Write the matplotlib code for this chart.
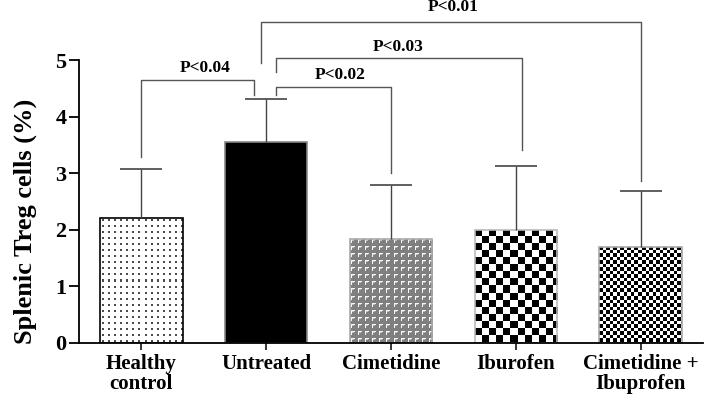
import numpy as np
import matplotlib.pyplot as plt

groups = ['Healthy\ncontrol', 'Untreated', 'Cimetidine', 'Iburofen', 'Cimetidine +\nIbuprofen']
means = [2.21, 3.56, 1.84, 2.00, 1.70]
sd = [0.86, 0.75, 0.96, 1.13, 0.99]
p_labels = ['P<0.04', 'P<0.02', 'P<0.03', 'P<0.01']
pairs = [(0, 1), (1, 2), (1, 3), (1, 4)]

# bracket layout: (x left, x right, top, left leg end, right leg end, label x, label y)
brackets = [
    (0.00, 0.90, 4.64, 3.29, 4.38, 0.51, 4.86),
    (1.08, 2.00, 4.53, 4.38, 3.01, 1.59, 4.73),
    (1.08, 3.05, 5.03, 4.78, 3.41, 2.06, 5.23),
    (0.96, 4.00, 5.68, 4.95, 2.86, 2.50, 5.94),
]

plt.rcParams['font.family'] = ['Liberation Serif', 'DejaVu Serif']
plt.rcParams['font.weight'] = 'bold'

fig = plt.figure(figsize=(7.07, 3.98), dpi=100)
ax = fig.add_axes([79 / 707, 55 / 398, 624 / 707, 283 / 398])
ax.set_xlim(-0.5, 4.5)
ax.set_ylim(0, 5)

width = 0.66
x = np.arange(len(groups))


def texture(kind, h, w):
    yy, xx = np.indices((h, w))
    img = np.ones((h, w, 3))
    if kind == 'dots':
        m = (yy % 6 >= 2) & (yy % 6 <= 3) & (xx % 6 >= 2) & (xx % 6 <= 3)
        img[m] = 0.3
    elif kind == 'weave':
        img[:] = 0.5
        ty, tx = yy % 7, xx % 7
        m = ((ty == 1) & (tx >= 1) & (tx <= 4)) | ((tx == 1) & (ty >= 1) & (ty <= 4))
        img[m] = 0.97
        img[(ty == 2) & (tx >= 2) & (tx <= 3)] = 0.75
    elif kind == 'check':
        m = ((yy // 7) + (xx // 7)) % 2 == 0
        img[m] = 0.0
    elif kind == 'finecheck':
        m = ((yy * 2 // 7) + (xx * 2 // 7)) % 2 == 0
        img[m] = 0.0
    return img


kinds = ['dots', None, 'weave', 'check', 'finecheck']
edges = ['black', '#888888', '#aaaaaa', '#bbbbbb', '#aaaaaa']
faces = ['none', 'black', 'none', 'none', 'none']

bars = ax.bar(x, means, width=width, color=faces, edgecolor=edges, linewidth=1.2, zorder=2)
for b, kind in zip(bars, kinds):
    if kind is None:
        continue
    x0, x1 = b.get_x(), b.get_x() + b.get_width()
    y0, y1 = 0, b.get_height()
    (px0, py0), (px1, py1) = ax.transData.transform([(x0, y0), (x1, y1)])
    w, h = int(round(px1 - px0)), int(round(py1 - py0))
    im = ax.imshow(texture(kind, h, w), extent=(x0, x1, y0, y1), aspect='auto',
                   interpolation='nearest', zorder=1.5)
    im.set_clip_path(b)
ax.set_xlim(-0.5, 4.5)
ax.set_ylim(0, 5)

eb = ax.errorbar(x, means, yerr=[np.zeros(len(sd)), sd], fmt='none', ecolor='#444444',
                 elinewidth=1, capsize=15, capthick=1.2, zorder=3)
eb[1][0].set_visible(False)

for (xl, xr, top, ll, rl, tx, ty), lab in zip(brackets, p_labels):
    ax.plot([xl, xl, xr, xr], [ll, top, top, rl], color='#555555', lw=1, clip_on=False, zorder=4)
    ax.text(tx, ty, lab, ha='center', va='center', fontsize=12.5, fontweight='bold', clip_on=False)

ax.spines['top'].set_visible(False)
ax.spines['right'].set_visible(False)
ax.spines['left'].set_bounds(0, 5)
ax.spines['left'].set_linewidth(1.3)
ax.spines['bottom'].set_linewidth(1.3)
ax.set_yticks([0, 1, 2, 3, 4, 5])
ax.set_xticks(x)
ax.set_xticklabels(groups, fontsize=15, fontweight='bold', linespacing=1.0)
ax.tick_params(axis='y', labelsize=16, length=7, width=1.3, pad=2)
ax.tick_params(axis='x', length=5, width=1.1, pad=3)
for t in ax.get_yticklabels():
    t.set_fontweight('bold')
ax.set_ylabel('Splenic Treg cells (%)', fontsize=19, fontweight='bold')
ax.yaxis.set_label_coords(-0.068, 0.43)

fig.savefig('out.png', dpi=100)
